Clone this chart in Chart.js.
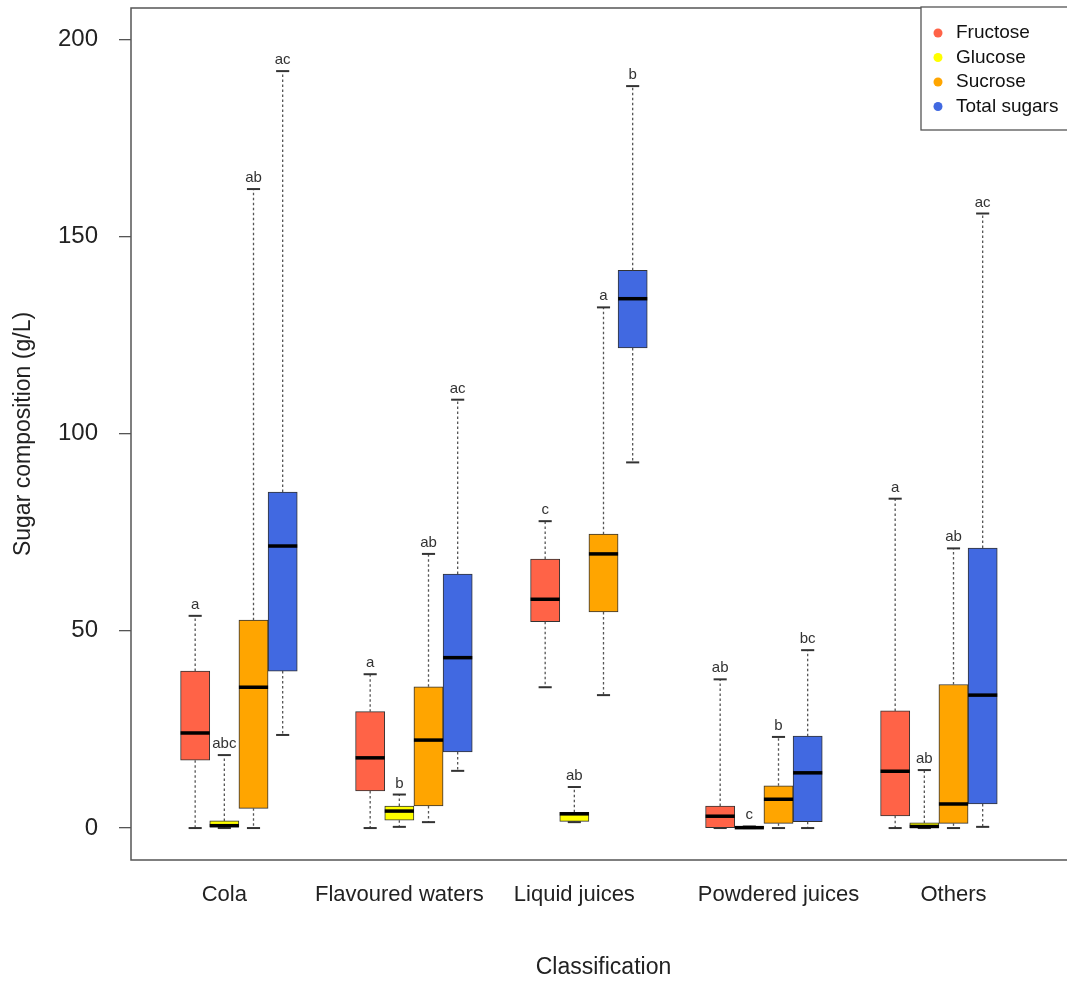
<!DOCTYPE html>
<html>
<head>
<meta charset="utf-8">
<title>Sugar composition by classification</title>
<script src="https://cdn.jsdelivr.net/npm/chart.js@4.4.1/dist/chart.umd.min.js"></script>
<style>
    html, body { margin: 0; padding: 0; background: #fff; overflow: hidden; }
    #wrap { width: 1080px; height: 981px; }
</style>
</head>
<body>
<div id="wrap"><canvas id="sugarChart" width="1080" height="981"></canvas></div>
<script>
const categories = ["Cola", "Flavoured waters", "Liquid juices", "Powdered juices", "Others"];
const groupStart = [1, 7, 13, 19, 25];
const labelPositions = [2, 8, 14, 21, 27];
const yTicks = [0, 50, 100, 150, 200];

// each row: [min, q1, median, q3, max] for one category
const fructose = [
    [0, 17.2, 24.1, 39.8, 53.8],
    [0, 9.4, 17.8, 29.5, 39.0],
    [35.7, 52.3, 58.0, 68.2, 77.8],
    [0, 0.1, 3.0, 5.6, 37.7],
    [0, 3.1, 14.4, 29.7, 83.5],
];
const glucose = [
    [0, 0.3, 0.6, 1.8, 18.5],
    [0.3, 2.0, 4.3, 5.6, 8.5],
    [1.5, 1.7, 3.6, 4.0, 10.4],
    [0, 0, 0.1, 0.3, 0.4],
    [0, 0.1, 0.4, 1.3, 14.7],
];
const sucrose = [
    [0, 5.0, 35.7, 52.7, 162.0],
    [1.5, 5.6, 22.3, 35.8, 69.5],
    [33.7, 54.8, 69.5, 74.5, 132.0],
    [0, 1.2, 7.3, 10.7, 23.1],
    [0, 1.2, 6.1, 36.4, 70.9],
];
const totalSugars = [
    [23.6, 39.8, 71.5, 85.2, 191.9],
    [14.5, 19.3, 43.2, 64.4, 108.6],
    [92.7, 121.7, 134.2, 141.4, 188.1],
    [0, 1.6, 14.0, 23.3, 45.1],
    [0.3, 6.1, 33.7, 71.0, 155.8],
];

const fructoseLetters = ["a", "a", "c", "ab", "a"];
const glucoseLetters = ["abc", "b", "ab", "c", "ab"];
const sucroseLetters = ["ab", "ab", "a", "b", "ab"];
const totalLetters = ["ac", "ac", "b", "bc", "ac"];

const series = [
    { label: "Fructose", stats: fructose, letters: fructoseLetters, color: "#ff6347" },
    { label: "Glucose", stats: glucose, letters: glucoseLetters, color: "#ffff00" },
    { label: "Sucrose", stats: sucrose, letters: sucroseLetters, color: "#ffa500" },
    { label: "Total sugars", stats: totalSugars, letters: totalLetters, color: "#4169e1" },
];

function line(ctx, x1, y1, x2, y2) {
    ctx.beginPath();
    ctx.moveTo(x1, y1);
    ctx.lineTo(x2, y2);
    ctx.stroke();
}

// whiskers, caps, medians and the letters above each box
const boxExtras = {
    id: "boxExtras",
    afterDatasetsDraw(chart) {
        const ctx = chart.ctx;
        const y = chart.scales.y;
        chart.data.datasets.forEach((ds, di) => {
            const meta = chart.getDatasetMeta(di);
            meta.data.forEach((bar, i) => {
                const [min, q1, med, q3, max] = ds.stats[i];
                const half = bar.width / 2;
                const yMin = y.getPixelForValue(min);
                const yQ1 = y.getPixelForValue(q1);
                const yMed = y.getPixelForValue(med);
                const yQ3 = y.getPixelForValue(q3);
                const yMax = y.getPixelForValue(max);

                ctx.save();
                ctx.strokeStyle = "#555";
                ctx.lineWidth = 1.3;
                ctx.setLineDash([2.5, 2.5]);
                line(ctx, bar.x, yQ3, bar.x, yMax);
                line(ctx, bar.x, yQ1, bar.x, yMin);
                ctx.setLineDash([]);

                ctx.strokeStyle = "#333";
                ctx.lineWidth = 2;
                line(ctx, bar.x - half * 0.45, yMax, bar.x + half * 0.45, yMax);
                line(ctx, bar.x - half * 0.45, yMin, bar.x + half * 0.45, yMin);

                ctx.strokeStyle = "#000";
                ctx.lineWidth = 3.5;
                line(ctx, bar.x - half, yMed, bar.x + half, yMed);

                ctx.fillStyle = "#333";
                ctx.font = "15px 'Liberation Sans', Arial, sans-serif";
                ctx.textAlign = "center";
                ctx.textBaseline = "alphabetic";
                ctx.fillText(ds.letters[i], bar.x, yMax - 7);
                ctx.restore();
            });
        });
    },
};

// frame round the plot and the boxed legend in the top right corner
const frameAndLegend = {
    id: "frameAndLegend",
    afterDraw(chart) {
        const ctx = chart.ctx;
        const area = chart.chartArea;
        ctx.save();
        ctx.strokeStyle = "#555";
        ctx.lineWidth = 1.5;
        ctx.strokeRect(area.left, area.top, area.right - area.left, area.bottom - area.top);

        const lx = area.right - 155;
        const ly = area.top - 1;
        ctx.fillStyle = "#fff";
        ctx.fillRect(lx, ly, 170, 123);
        ctx.strokeStyle = "#555";
        ctx.lineWidth = 1.3;
        ctx.strokeRect(lx, ly, 170, 123);

        ctx.font = "19px 'Liberation Sans', Arial, sans-serif";
        ctx.textBaseline = "middle";
        ctx.textAlign = "left";
        chart.data.datasets.forEach((ds, i) => {
            const cy = ly + 26 + i * 24.5;
            ctx.fillStyle = ds.backgroundColor;
            ctx.beginPath();
            ctx.arc(lx + 17, cy, 4.5, 0, Math.PI * 2);
            ctx.fill();
            ctx.fillStyle = "#111";
            ctx.fillText(ds.label, lx + 35, cy);
        });
        ctx.restore();
    },
};

const datasets = series.map((s, si) => ({
    label: s.label,
    stats: s.stats,
    letters: s.letters,
    data: s.stats.map((row, ci) => ({ x: groupStart[ci] + si, y: [row[1], row[3]] })),
    backgroundColor: s.color,
    borderColor: "#333",
    borderWidth: 1,
    borderSkipped: false,
    grouped: false,
    barPercentage: 1,
    categoryPercentage: 1,
}));

Chart.defaults.font.family = "'Liberation Sans', Arial, sans-serif";
Chart.defaults.color = "#222";

new Chart(document.getElementById("sugarChart"), {
    type: "bar",
    data: { datasets },
    plugins: [boxExtras, frameAndLegend],
    options: {
        responsive: false,
        animation: false,
        layout: { padding: { top: 8, right: 4, left: 0, bottom: 0 } },
        plugins: {
            legend: { display: false },
            tooltip: { enabled: false },
        },
        scales: {
            x: {
                type: "linear",
                offset: false,
                min: -1.2,
                max: 31.2,
                afterBuildTicks: (axis) => {
                    axis.ticks = labelPositions.map((v) => ({ value: v }));
                },
                afterFit: (axis) => {
                    axis.height = 121;
                    axis.paddingLeft = 0;
                    axis.paddingRight = 0;
                },
                ticks: {
                    autoSkip: false,
                    maxRotation: 0,
                    padding: 22,
                    font: { size: 22 },
                    color: "#222",
                    callback: (value) => categories[labelPositions.indexOf(value)],
                },
                grid: { display: false, drawTicks: false },
                border: { display: false },
                title: {
                    display: true,
                    text: "Classification",
                    font: { size: 23 },
                    color: "#222",
                    padding: { top: 0, bottom: 0 },
                },
            },
            y: {
                min: -8.1,
                max: 207.9,
                afterBuildTicks: (axis) => {
                    axis.ticks = yTicks.map((v) => ({ value: v }));
                },
                afterFit: (axis) => {
                    axis.width = 131;
                    axis.paddingTop = 0;
                    axis.paddingBottom = 0;
                },
                ticks: {
                    padding: 21,
                    font: { size: 24 },
                    color: "#222",
                },
                grid: {
                    drawOnChartArea: false,
                    drawTicks: true,
                    tickLength: 12,
                    color: "#555",
                    lineWidth: 1.3,
                },
                border: { display: false },
                title: {
                    display: true,
                    text: "Sugar composition (g/L)",
                    font: { size: 23 },
                    color: "#222",
                    padding: { top: 10, bottom: 0 },
                },
            },
        },
    },
});
</script>
</body>
</html>
